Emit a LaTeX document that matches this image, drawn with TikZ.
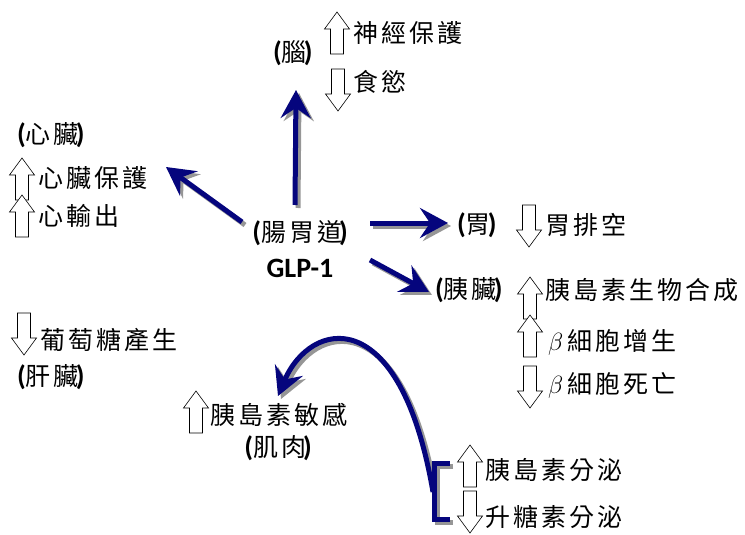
\documentclass[tikz,border=0pt]{standalone}
\usepackage{fontspec}
\setmainfont{Carlito}
\newfontfamily\cjkfont[LetterSpace=12]{Noto Sans CJK TC}
\usetikzlibrary{arrows.meta}
\definecolor{navyarr}{RGB}{5,5,125}
\definecolor{shadowgr}{RGB}{150,150,150}
\newcommand\zh[1]{{\fontsize{25}{27}\cjkfont #1}}
\newcommand\organ[1]{\textbf{(}\zh{#1}\kern-3pt\textbf{)}}
\newcommand\shadowed[2]{\draw[shadowarr] ([shift={(3,3)}]#1) -- ([shift={(3,3)}]#2); \draw[bluearr] (#1) -- (#2);}
\tikzset{
  hollow/.style={draw=black, fill=white, line width=0.6pt, line join=miter},
  uarr/.pic={\path[hollow] (0,0) -- (12.5,17) -- (6.5,17) -- (6.5,42) -- (-6.5,42) -- (-6.5,17) -- (-12.5,17) -- cycle;},
  darr/.pic={\path[hollow] (0,0) -- (12.5,-17) -- (6.5,-17) -- (6.5,-42) -- (-6.5,-42) -- (-6.5,-17) -- (-12.5,-17) -- cycle;},
  bluearr/.style={draw=navyarr, line width=5pt, -{Stealth[length=28pt,width=30pt,inset=10pt]}},
  shadowarr/.style={draw=shadowgr, line width=5pt, -{Stealth[length=28pt,width=30pt,inset=10pt]}},
  bluebr/.style={draw=navyarr, line width=5pt, line join=miter},
  shadowbr/.style={draw=shadowgr, line width=5pt, line join=miter},
  lab/.style={inner sep=0pt, anchor=west},
  clab/.style={inner sep=0pt, anchor=center},
}
\begin{document}
\begin{tikzpicture}[x=1pt,y=-1pt,font=\fontsize{28}{30}\selectfont]
\useasboundingbox (0,0) rectangle (745,535);

% hollow arrows
\pic at (337,12) {uarr};
\pic at (338,111) {darr};
\pic at (22,158) {uarr};
\pic at (22,195) {uarr};
\pic at (529,247) {darr};
\pic at (530,277) {uarr};
\pic at (530,315) {uarr};
\pic at (530,408) {darr};
\pic at (24,355) {darr};
\pic at (196,391) {uarr};
\pic at (470,445) {uarr};
\pic at (470,533) {darr};

% labels
\node[lab] (brainorg) at (273,53) {\organ{腦}};
\node[lab] (neuro) at (353,33) {\zh{神經保護}};
\node[lab] (food) at (353,82) {\zh{食慾}};

\node[lab] (heartorg) at (17,135) {\organ{心臟}};
\node[lab] (heartprot) at (38,178) {\zh{心臟保護}};
\node[lab] (cardout) at (38,216) {\zh{心輸出}};

\node[clab] (gut) at (300,233) {\organ{腸胃道}};
\node[clab] (glp) at (300,268) {\textbf{GLP-1}};

\node[lab] (stomorg) at (457,225) {\organ{胃}};
\node[lab] (gastric) at (545,225) {\zh{胃排空}};

\node[lab] (pancorg) at (435,290) {\organ{胰臟}};
\node[lab] (insbio) at (545,290) {\zh{胰島素生物合成}};
\node[lab] (beta1) at (548,342) {{\fontsize{25}{27}\selectfont$\beta$\,}\zh{細胞增生}};
\node[lab] (beta2) at (548,385) {{\fontsize{25}{27}\selectfont$\beta$\,}\zh{細胞死亡}};

\node[lab] (gluc) at (40,340) {\zh{葡萄糖產生}};
\node[lab] (liverorg) at (17,377) {\organ{肝臟}};

\node[lab] (inssens) at (210,415) {\zh{胰島素敏感}};
\node[clab] (muscle) at (278,448) {\organ{肌肉}};

\node[lab] (inssec) at (485,470) {\zh{胰島素分泌}};
\node[lab] (glucagon) at (485,517) {\zh{升糖素分泌}};

% blue arrows
\coordinate (up0) at (295,205);
\coordinate (up1) at (296,90);
\coordinate (lf0) at (242,222);
\coordinate (lf1) at (166,167);
\coordinate (rt0) at (370,223);
\coordinate (rt1) at (448,223);
\coordinate (dg0) at (370,260);
\coordinate (dg1) at (429,292);
\shadowed{up0}{up1}
\shadowed{lf0}{lf1}
\shadowed{rt0}{rt1}
\shadowed{dg0}{dg1}

% bracket and curved arrow
\coordinate (cv0) at (433,492);
\coordinate (cv1) at (278,396);
\draw[shadowbr] (453,466) -- (437,466) -- (437,522) -- (453,522);
\draw[shadowarr] ([shift={(3,3)}]cv0) .. controls (403,303) and (313,323) .. ([shift={(3,3)}]cv1);
\draw[bluearr] (cv0) .. controls (400,300) and (310,320) .. (cv1);
\draw[bluebr] (450,463) -- (434,463) -- (434,519) -- (450,519);
\end{tikzpicture}
\end{document}
